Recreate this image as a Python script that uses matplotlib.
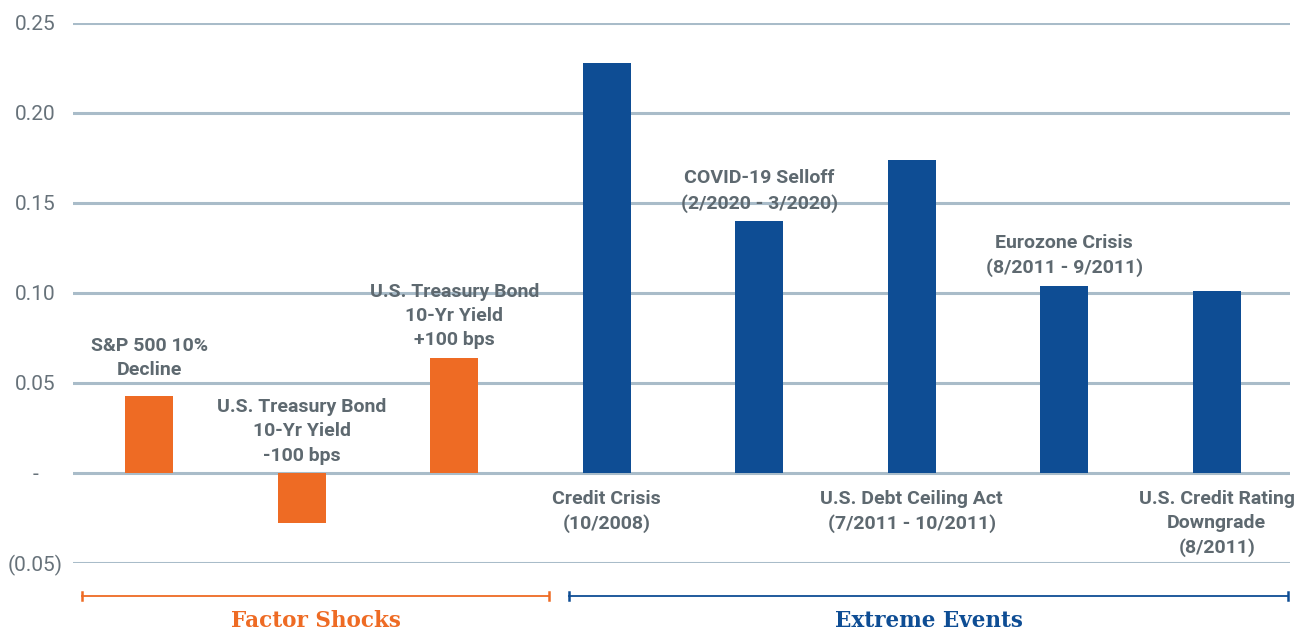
import matplotlib.pyplot as plt
import matplotlib.transforms as mtransforms

# data
labels = ['S&P 500 10%\nDecline',
          'U.S. Treasury Bond\n10-Yr Yield\n-100 bps',
          'U.S. Treasury Bond\n10-Yr Yield\n+100 bps',
          'Credit Crisis\n(10/2008)',
          'COVID-19 Selloff\n(2/2020 - 3/2020)',
          'U.S. Debt Ceiling Act\n(7/2011 - 10/2011)',
          'Eurozone Crisis\n(8/2011 - 9/2011)',
          'U.S. Credit Rating\nDowngrade\n(8/2011)']
values = [0.043, -0.028, 0.064, 0.228, 0.140, 0.174, 0.104, 0.101]
groups = ['Factor Shocks'] * 3 + ['Extreme Events'] * 5
label_side = ['above', 'above', 'above', 'below', 'above', 'below', 'above', 'below']
yticks = [-0.05, 0, 0.05, 0.10, 0.15, 0.20, 0.25]
ytick_labels = ['(0.05)', '-', '0.05', '0.10', '0.15', '0.20', '0.25']

ORANGE = '#EE6B24'
BLUE = '#0E4D94'
GREY = '#5E6970'
GRID = '#A9BCC9'
group_colours = {'Factor Shocks': ORANGE, 'Extreme Events': BLUE}

fig = plt.figure(figsize=(13.03, 6.31), dpi=100)
ax = fig.add_axes([73 / 1303, 1 - 563 / 631, 1217 / 1303, 540 / 631])

xs = list(range(len(values)))
colours = [group_colours[g] for g in groups]
ax.bar(xs, values, width=0.315, color=colours, zorder=3)

ax.set_xlim(-0.5, 7.48)
ax.set_ylim(-0.05, 0.25)
ax.set_yticks(yticks)
ax.set_yticklabels(ytick_labels)
ax.set_xticks([])
ax.grid(axis='y', color=GRID, lw=2.2, zorder=1)
ax.tick_params(axis='y', length=0, pad=27, labelsize=15, labelcolor='#67727A')
for lbl in ax.get_yticklabels():
    lbl.set_horizontalalignment('center')
    lbl.set_fontfamily('Roboto')
for s in ax.spines.values():
    s.set_visible(False)

# bar labels
for x, v, text, side in zip(xs, values, labels, label_side):
    if side == 'above':
        y, off, va = max(v, 0), 6, 'bottom'
        if x == 0:
            off = 12
    else:
        y, off, va = 0, -12, 'top'
    ax.annotate(text, xy=(x, y), xytext=(0, off), textcoords='offset points',
                ha='center', va=va, fontsize=14, fontweight='bold',
                color=GREY, family='Roboto', linespacing=1.45, zorder=4)

# group brackets
trans = mtransforms.blended_transform_factory(ax.transData, ax.transAxes)
brackets = [('Factor Shocks', -0.44, 2.62), ('Extreme Events', 2.75, 7.47)]
for name, x0, x1 in brackets:
    c = group_colours[name]
    ax.plot([x0, x1], [-0.061, -0.061], color=c, lw=1.3, transform=trans,
            clip_on=False)
    for xe in (x0, x1):
        ax.plot([xe, xe], [-0.068, -0.054], color=c, lw=1.8, transform=trans,
                clip_on=False)
    ax.text((x0 + x1) / 2, -0.108, name, color=c, transform=trans,
            ha='center', va='center', fontsize=15.5, fontweight='bold',
            family='DejaVu Serif')

fig.savefig('out.png', dpi=100)
